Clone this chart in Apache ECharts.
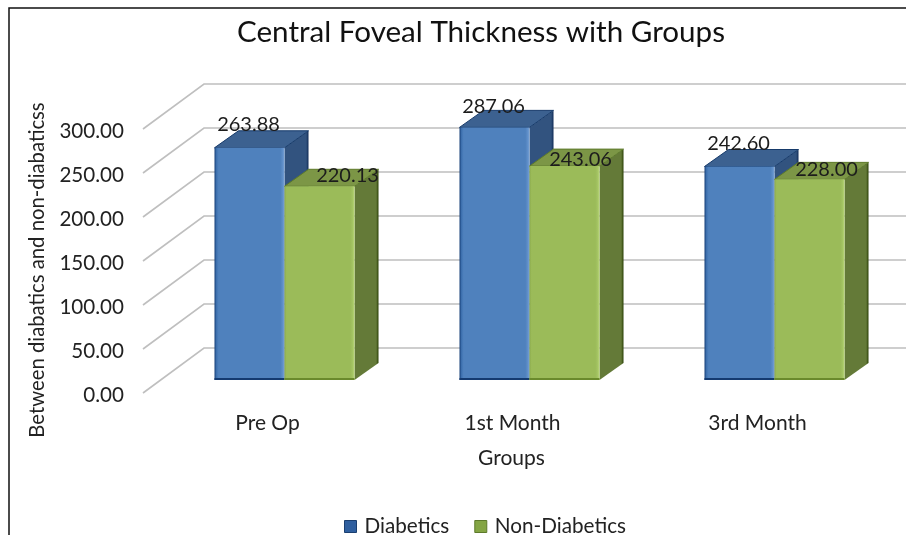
<!DOCTYPE html>
<html>
<head>
<meta charset="utf-8">
<style>
  html, body { margin: 0; padding: 0; background: #fff; }
  #chart { width: 906px; height: 535px; }
</style>
<script src="https://cdn.jsdelivr.net/npm/echarts@6/dist/echarts.min.js"></script>
</head>
<body>
<div id="chart"></div>
<script>
var categories = ["Pre Op", "1st Month", "3rd Month"];
var diabetics = [263.88, 287.06, 242.60];
var nonDiabetics = [220.13, 243.06, 228.00];
var yTicks = [0, 50, 100, 150, 200, 250, 300];

var FONT = "Lato, 'Open Sans', sans-serif";

// fake 3D offsets, px from the plane the bars stand on
var BAR_DEPTH = { x: 24, y: -17 };
var WALL = { x: 42, y: -32 };
var FLOOR_EDGE = { x: -19, y: 13 };

var blueColors = {
  front: ["#163f78", "#3f72b0", "#4f81bd", "#4f81bd", "#5d8dc8", "#7aa3d6"],
  bottom: "#143a70", side: "#32537f", sideEdge: "#0f2a55", top: "#3c6190", topEdge: "#163a6a"
};
var greenColors = {
  front: ["#8cab4d", "#9bbb59", "#9bbb59", "#9bbb59", "#a3c362", "#bcd97c"],
  bottom: "#6a8a2c", side: "#647a38", sideEdge: "#2a4005", top: "#7c9646", topEdge: "#5d7a2a"
};

function frontFill(c) {
  return new echarts.graphic.LinearGradient(0, 0, 1, 0, [
    { offset: 0, color: c[0] },
    { offset: 0.03, color: c[1] },
    { offset: 0.06, color: c[2] },
    { offset: 0.94, color: c[3] },
    { offset: 0.97, color: c[4] },
    { offset: 1, color: c[5] }
  ]);
}

// side: -1 draws left of the band centre, 0 draws right of it
function barRenderer(side, colors, labelNudge) {
  return function (params, api) {
    var top = api.coord([api.value(0), api.value(1)]);
    var base = api.coord([api.value(0), 0]);
    var w = api.size([1, 0])[0] * 0.2857;
    var x0 = top[0] + side * w;
    var x1 = x0 + w;
    var y0 = top[1];
    var y1 = base[1];
    var dx = BAR_DEPTH.x;
    var dy = BAR_DEPTH.y;
    var nudge = labelNudge[params.dataIndex];
    return {
      type: "group",
      children: [
        {
          type: "polygon",
          shape: { points: [[x1, y0], [x1 + dx, y0 + dy], [x1 + dx, y1 + dy], [x1, y1]] },
          style: {
            fill: new echarts.graphic.LinearGradient(0, 0, 1, 0, [
              { offset: 0, color: colors.side },
              { offset: 0.9, color: colors.side },
              { offset: 1, color: colors.sideEdge }
            ])
          }
        },
        {
          type: "polygon",
          shape: { points: [[x0, y0], [x0 + dx, y0 + dy], [x1 + dx, y0 + dy], [x1, y0]] },
          style: { fill: colors.top, stroke: colors.topEdge, lineWidth: 1 }
        },
        {
          type: "rect",
          shape: { x: x0, y: y0, width: w, height: y1 - y0 },
          style: { fill: frontFill(colors.front) }
        },
        {
          type: "rect",
          shape: { x: x0, y: y1 - 2, width: w, height: 2 },
          style: { fill: colors.bottom }
        },
        {
          type: "text",
          z2: 10,
          style: {
            text: api.value(1).toFixed(2),
            x: x0 + nudge[0],
            y: y0 + nudge[1],
            align: "center",
            verticalAlign: "middle",
            font: "20px " + FONT,
            fill: "#1c1c1c"
          }
        }
      ]
    };
  };
}

function gridRenderer(params, api) {
  var p = api.coord([0, api.value(0)]);
  var rect = params.coordSys;
  var xf = rect.x + FLOOR_EDGE.x;
  var yf = p[1] + FLOOR_EDGE.y;
  var xw = rect.x + WALL.x;
  var yw = p[1] + WALL.y;
  return {
    type: "polyline",
    shape: { points: [[xf, yf], [xw, yw], [api.getWidth(), yw]] },
    style: { fill: null, stroke: "#bfbfbf", lineWidth: 1.6 }
  };
}

var chart = echarts.init(document.getElementById("chart"));
chart.setOption({
  animation: false,
  backgroundColor: "#fff",
  textStyle: { fontFamily: FONT },
  title: {
    text: "Central Foveal Thickness with Groups",
    left: 232,
    top: 12,
    textStyle: { fontFamily: FONT, fontSize: 29.6, fontWeight: "normal", color: "#111" }
  },
  legend: {
    data: [
      { name: "Diabetics", itemStyle: { color: "#2f5f9f", borderColor: "#1b3f70", borderWidth: 1 } },
      { name: "Non-Diabetics", itemStyle: { color: "#84a544", borderColor: "#5d7a2a", borderWidth: 1 } }
    ],
    left: 339,
    top: 511,
    icon: "rect",
    itemWidth: 12,
    itemHeight: 12,
    itemGap: 25,
    textStyle: { fontFamily: FONT, fontSize: 20.7, color: "#222", padding: [0, 0, 0, 3] }
  },
  grid: { left: 162, top: 116, width: 735, height: 264 },
  xAxis: {
    type: "category",
    data: categories,
    axisLine: { show: false },
    axisTick: { show: false },
    axisLabel: {
      margin: 33,
      padding: [0, 34, 0, 0],
      fontFamily: FONT,
      fontSize: 21,
      color: "#222"
    },
    name: "Groups",
    nameLocation: "middle",
    nameGap: 68,
    nameTextStyle: { fontFamily: FONT, fontSize: 21, color: "#222", padding: [0, 36, 0, 0] }
  },
  yAxis: {
    type: "value",
    min: 0,
    max: 300,
    interval: 50,
    axisLine: { show: false },
    axisTick: { show: false },
    splitLine: { show: false },
    axisLabel: {
      margin: 38,
      verticalAlign: "top",
      padding: [5, 0, 0, 0],
      formatter: function (v) { return v.toFixed(2); },
      fontFamily: FONT,
      fontSize: 20.6,
      color: "#222"
    },
    name: "Between diabatics and non-diabaticss",
    nameLocation: "middle",
    nameRotate: 90,
    nameGap: 115,
    nameTextStyle: { fontFamily: FONT, fontSize: 20.3, color: "#222", padding: [0, 44, 0, 0] }
  },
  series: [
    {
      name: "walls",
      type: "custom",
      renderItem: gridRenderer,
      encode: { y: 0 },
      data: yTicks,
      silent: true,
      z: 1
    },
    {
      name: "Diabetics",
      type: "custom",
      renderItem: barRenderer(-1, blueColors, [[34, -23], [34, -21], [34, -23]]),
      encode: { x: 0, y: 1 },
      itemStyle: { color: "#2f5f9f" },
      data: diabetics.map(function (v, i) { return [i, v]; }),
      z: 2
    },
    {
      name: "Non-Diabetics",
      type: "custom",
      renderItem: barRenderer(0, greenColors, [[63, -11], [51, -7], [52, -10]]),
      encode: { x: 0, y: 1 },
      itemStyle: { color: "#84a544" },
      data: nonDiabetics.map(function (v, i) { return [i, v]; }),
      z: 3
    }
  ],
  graphic: [
    {
      type: "polyline",
      silent: true,
      shape: { points: [[9, 535], [9, 8], [906, 8]] },
      style: { fill: null, stroke: "#111", lineWidth: 1.5 }
    }
  ]
});
</script>
</body>
</html>
